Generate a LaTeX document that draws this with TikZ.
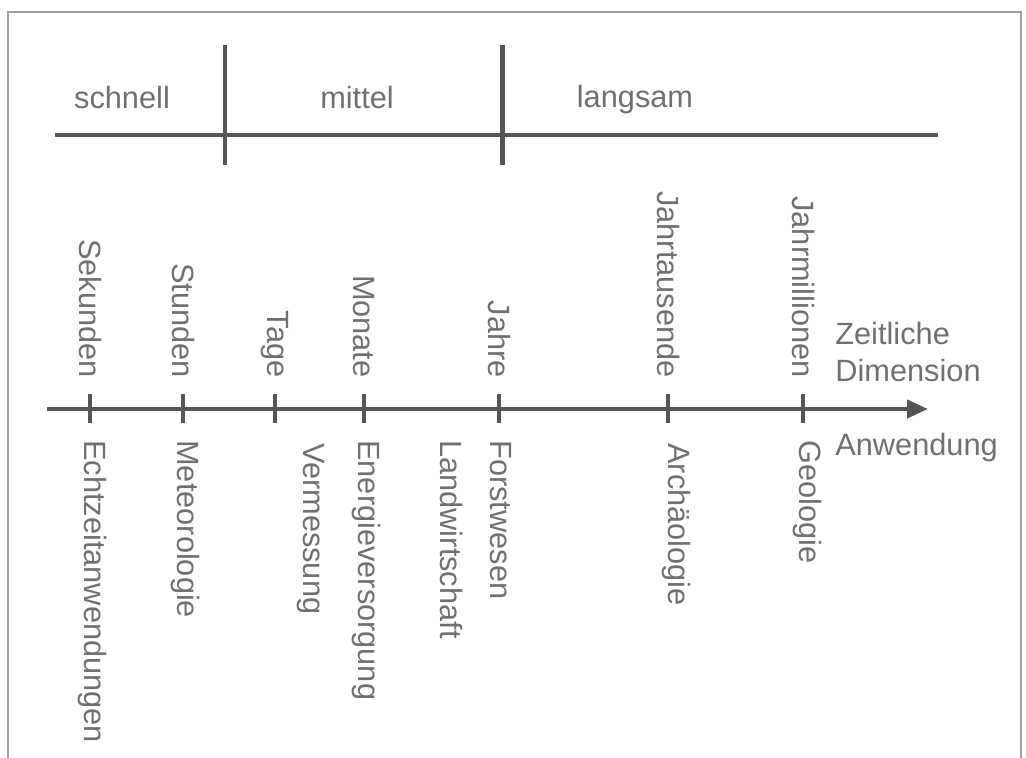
\documentclass[tikz,border=0pt]{standalone}
\usepackage{fontspec}
\setmainfont{Liberation Sans}
\usetikzlibrary{arrows.meta, positioning}
\definecolor{tlLine}{HTML}{555555}
\definecolor{tlText}{HTML}{707070}
\definecolor{tlFrame}{HTML}{A0A0A0}
\tikzset{
  tlline/.style={line width=2.4pt, tlLine},
  tltick/.style={line width=2.7pt, tlLine},
  tlarrow/.style={-{Triangle[length=4.2mm, width=3.6mm]}, line width=2.4pt, tlLine},
  speedlabel/.style={font=\fontsize{17.5}{21}\selectfont, text=tlText, inner sep=0pt},
  zeitlabel/.style={speedlabel, rotate=-90, anchor=east},
  anwlabel/.style={speedlabel, rotate=-90, anchor=west}
}

\begin{document}
\begin{tikzpicture}
  \useasboundingbox (0,0) rectangle (20.52,15.16);
  % frame, open at the bottom
  \draw[tlFrame, line width=0.8pt] (0.16,-0.2) |- (20.42,14.92) -- (20.42,-0.2);

  % speed bar
  \coordinate (barA) at (1.10,12.46);
  \coordinate (barB) at (18.76,12.46);
  \coordinate (div1) at (4.50,12.46);
  \coordinate (div2) at (10.05,12.46);
  \draw[tlline] (barA) -- (barB);
  \draw[tltick] ([yshift=18mm]div1) -- ([yshift=-6mm]div1);
  \draw[tltick] ([yshift=18mm]div2) -- ([yshift=-6mm]div2);
  \node[speedlabel, anchor=base] (schnell) at (2.44,12.98) {schnell};
  \node[speedlabel, anchor=base] (mittel) at (7.14,12.98) {mittel};
  \node[speedlabel, anchor=base] (langsam) at (12.70,13.00) {langsam};

  % time axis
  \coordinate (axA) at (0.94,6.98);
  \coordinate (axB) at (18.56,6.98);
  \draw[tlarrow] (axA) -- (axB);

  \coordinate (sek) at (1.80,6.98);
  \coordinate (std) at (3.66,6.98);
  \coordinate (tag) at (5.50,6.98);
  \coordinate (mon) at (7.28,6.98);
  \coordinate (jhr) at (9.98,6.98);
  \coordinate (jts) at (13.36,6.98);
  \coordinate (jmi) at (16.06,6.98);
  \draw[tltick] ([yshift=2.9mm]sek) -- ([yshift=-2.9mm]sek);
  \draw[tltick] ([yshift=2.9mm]std) -- ([yshift=-2.9mm]std);
  \draw[tltick] ([yshift=2.9mm]tag) -- ([yshift=-2.9mm]tag);
  \draw[tltick] ([yshift=2.9mm]mon) -- ([yshift=-2.9mm]mon);
  \draw[tltick] ([yshift=2.9mm]jhr) -- ([yshift=-2.9mm]jhr);
  \draw[tltick] ([yshift=2.9mm]jts) -- ([yshift=-2.9mm]jts);
  \draw[tltick] ([yshift=2.9mm]jmi) -- ([yshift=-2.9mm]jmi);

  % time scale above the axis
  \node[zeitlabel] (sekL) at ([yshift=6.2mm]sek) {Sekunden};
  \node[zeitlabel] (stdL) at ([yshift=6.2mm]std) {Stunden};
  \node[zeitlabel] (tagL) at ([yshift=6.2mm]tag) {Tage};
  \node[zeitlabel] (monL) at ([yshift=6.2mm]mon) {Monate};
  \node[zeitlabel] (jhrL) at ([yshift=6.2mm]jhr) {Jahre};
  \node[zeitlabel] (jtsL) at ([yshift=6.2mm]jts) {Jahrtausende};
  \node[zeitlabel] (jmiL) at ([yshift=6.2mm]jmi) {Jahrmillionen};

  % applications below the axis
  \node[anwlabel] (echt) at ([xshift=0.4mm, yshift=-6.2mm]sek) {Echtzeitanwendungen};
  \node[anwlabel] (meteo) at ([xshift=0.4mm, yshift=-6.2mm]std) {Meteorologie};
  \node[anwlabel] (verm) at (6.22,6.30) {Vermessung};
  \node[anwlabel] (energ) at ([xshift=0.4mm, yshift=-6.2mm]mon) {Energieversorgung};
  \node[anwlabel] (landw) at (9.02,6.36) {Landwirtschaft};
  \node[anwlabel] (forst) at ([xshift=0.4mm, yshift=-6.2mm]jhr) {Forstwesen};
  \node[anwlabel] (archae) at ([xshift=1.6mm, yshift=-6.8mm]jts) {Archäologie};
  \node[anwlabel] (geo) at ([xshift=0.8mm, yshift=-6.2mm]jmi) {Geologie};

  \node[speedlabel, anchor=west, align=left] (zeitD) at (16.70,8.12) {Zeitliche\\Dimension};
  \node[speedlabel, anchor=west] (anw) at (16.70,6.20) {Anwendung};
\end{tikzpicture}
\end{document}
